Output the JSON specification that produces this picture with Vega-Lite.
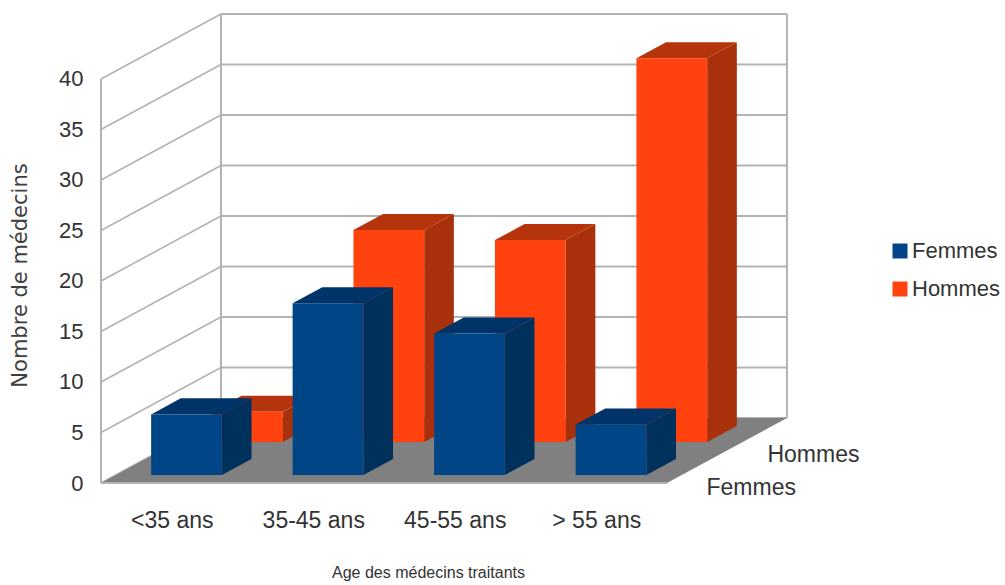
{
"$schema":"https://vega.github.io/schema/vega-lite/v6.json",
"width":904,"height":483,
"autosize":"none",
"padding":{"left":101,"top":0,"right":0,"bottom":102},
"background":"white",
"config":{"view":{"stroke":null}},
"datasets":{
"bars":[
{"age":"<35 ans","serie":"Femmes","value":6},
{"age":"35-45 ans","serie":"Femmes","value":17},
{"age":"45-55 ans","serie":"Femmes","value":14},
{"age":"> 55 ans","serie":"Femmes","value":5},
{"age":"<35 ans","serie":"Hommes","value":3},
{"age":"35-45 ans","serie":"Hommes","value":21},
{"age":"45-55 ans","serie":"Hommes","value":20},
{"age":"> 55 ans","serie":"Hommes","value":38}],
"levels":[{"level":0},{"level":5},{"level":10},{"level":15},{"level":20},{"level":25},{"level":30},{"level":35},{"level":40}],
"depths":[{"depth":0},{"depth":1}],
"corners":[{"cat":0,"depth":0},{"cat":0,"depth":1},{"cat":4,"depth":1}],
"rows":[{"serie":"Femmes"},{"serie":"Hommes"}]
},
"layer":[
{"data":{"name":"levels"},
 "transform":[{"calculate":"datum.level+6.436","as":"yb"},{"calculate":"0","as":"xf"},{"calculate":"0.848","as":"xb"}],
 "mark":{"type":"rule","color":"#b3b3b3","strokeWidth":1.6},
 "encoding":{
  "x":{"field":"xf","type":"quantitative","scale":{"domain":[0,6.389],"nice":false,"zero":false},
   "axis":{"values":[0.5,1.5,2.5,3.5],"labelExpr":"['<35 ans','35-45 ans','45-55 ans','> 55 ans'][floor(datum.value)]","domain":false,"ticks":false,"grid":false,"labelFont":"Liberation Sans","labelFontSize":23,"labelColor":"#333333","labelPadding":37,"labelBaseline":"middle","title":"Age des médecins traitants","titleFont":"Liberation Sans","titleFontSize":16,"titleFontWeight":"normal","titleColor":"#333333","titleX":327,"titleY":89,"titleBaseline":"middle","titleAnchor":"middle","labelOverlap":false}},
  "x2":{"field":"xb"},
  "y":{"field":"level","type":"quantitative","scale":{"domain":[0,47.82],"nice":false,"zero":false},
   "axis":{"values":[0,5,10,15,20,25,30,35,40],"domain":false,"ticks":false,"grid":false,"labelFont":"Liberation Sans","labelFontSize":22,"labelColor":"#333333","labelPadding":18,"labelOverlap":false,"title":"Nombre de médecins","titleFont":"DejaVu Sans","titleFontSize":21,"titleFontWeight":"normal","titleColor":"#404040","titleX":-81,"titleY":275,"titleBaseline":"middle","titleAngle":270,"titleAnchor":"middle"}},
  "y2":{"field":"yb"}}},
{"data":{"name":"levels"},
 "transform":[{"calculate":"datum.level+6.436","as":"yb"},{"calculate":"0.848","as":"xl"},{"calculate":"4.848","as":"xr"}],
 "mark":{"type":"rule","color":"#b3b3b3","strokeWidth":2},
 "encoding":{
  "x":{"field":"xl","type":"quantitative"},
  "x2":{"field":"xr"},
  "y":{"field":"yb","type":"quantitative"}}},
{"data":{"name":"corners"},
 "transform":[{"calculate":"datum.cat+datum.depth*0.848","as":"xc"},{"calculate":"datum.depth*6.436","as":"ylo"},{"calculate":"datum.depth*6.436+40","as":"yhi"}],
 "mark":{"type":"rule","color":"#b3b3b3","strokeWidth":2},
 "encoding":{
  "x":{"field":"xc","type":"quantitative"},
  "y":{"field":"ylo","type":"quantitative"},
  "y2":{"field":"yhi"}}},
{"data":{"name":"depths"},
 "transform":[{"calculate":"datum.depth*0.848","as":"xa"},{"calculate":"4+datum.depth*0.848","as":"xz"},{"calculate":"datum.depth*6.436","as":"yd"}],
 "mark":{"type":"area","color":"#808080","orient":"horizontal"},
 "encoding":{
  "y":{"field":"yd","type":"quantitative"},
  "x":{"field":"xa","type":"quantitative","stack":null},
  "x2":{"field":"xz"}}},
{"data":{"name":"depths"},
 "transform":[{"filter":"datum.depth==0"},{"calculate":"0","as":"xa"},{"calculate":"4","as":"xz"},{"calculate":"0","as":"yd"}],
 "mark":{"type":"rule","color":"#b3b3b3","strokeWidth":2},
 "encoding":{
  "x":{"field":"xa","type":"quantitative"},
  "x2":{"field":"xz"},
  "y":{"field":"yd","type":"quantitative"}}},
{"data":{"name":"bars"},
 "transform":[
  {"filter":"datum.serie=='Hommes'"},
  {"calculate":"indexof(['<35 ans','35-45 ans','45-55 ans','> 55 ans'],datum.age)+0.25+0.848*0.63","as":"x0"},
  {"calculate":"datum.x0+0.5","as":"x1"},
  {"calculate":"6.436*0.63","as":"y0"},
  {"calculate":"datum.y0+datum.value","as":"y1"},
  {"calculate":"[0,1]","as":"t"},{"flatten":["t"]},
  {"calculate":"datum.x1+datum.t*0.2095","as":"sx"},
  {"calculate":"datum.y0+datum.t*1.59","as":"sy0"},
  {"calculate":"datum.y1+datum.t*1.59","as":"sy1"},
  {"calculate":"datum.serie+' côté'","as":"key"}],
 "mark":{"type":"area"},
 "encoding":{
  "x":{"field":"sx","type":"quantitative"},
  "y":{"field":"sy0","type":"quantitative","stack":null},
  "y2":{"field":"sy1"},
  "detail":{"field":"age"},
  "color":{"field":"key","type":"nominal","scale":{"domain":["Femmes","Hommes","Femmes côté","Hommes côté","Femmes dessus","Hommes dessus"],"range":["#004586","#ff420e","#00305c","#a8300a","#003468","#b5340b"]},
   "legend":{"values":["Femmes","Hommes"],"title":null,"orient":"none","legendX":788,"legendY":240,"symbolType":"square","symbolSize":225,"symbolStrokeWidth":0,"labelFont":"Liberation Sans","labelFontSize":22,"labelColor":"#333333","labelOffset":1,"rowPadding":16,"padding":0}}}},
{"data":{"name":"bars"},
 "transform":[
  {"filter":"datum.serie=='Hommes'"},
  {"calculate":"indexof(['<35 ans','35-45 ans','45-55 ans','> 55 ans'],datum.age)+0.25+0.848*0.63","as":"x0"},
  {"calculate":"datum.x0+0.5","as":"x1"},
  {"calculate":"6.436*0.63","as":"y0"},
  {"calculate":"datum.y0+datum.value","as":"y1"},
  {"calculate":"[0,1]","as":"t"},{"flatten":["t"]},
  {"calculate":"datum.x0+datum.t*0.2095","as":"tx0"},
  {"calculate":"datum.x1+datum.t*0.2095","as":"tx1"},
  {"calculate":"datum.y1+datum.t*1.59","as":"ty"},
  {"calculate":"datum.serie+' dessus'","as":"key"}],
 "mark":{"type":"area","orient":"horizontal"},
 "encoding":{
  "y":{"field":"ty","type":"quantitative"},
  "x":{"field":"tx0","type":"quantitative","stack":null},
  "x2":{"field":"tx1"},
  "detail":{"field":"age"},
  "color":{"field":"key","type":"nominal"}}},
{"data":{"name":"bars"},
 "transform":[
  {"filter":"datum.serie=='Hommes'"},
  {"calculate":"indexof(['<35 ans','35-45 ans','45-55 ans','> 55 ans'],datum.age)+0.25+0.848*0.63","as":"x0"},
  {"calculate":"datum.x0+0.5","as":"x1"},
  {"calculate":"6.436*0.63","as":"y0"},
  {"calculate":"datum.y0+datum.value","as":"y1"}],
 "mark":{"type":"rect"},
 "encoding":{
  "x":{"field":"x0","type":"quantitative"},
  "x2":{"field":"x1"},
  "y":{"field":"y0","type":"quantitative"},
  "y2":{"field":"y1"},
  "color":{"field":"serie","type":"nominal"}}},
{"data":{"name":"bars"},
 "transform":[
  {"filter":"datum.serie=='Femmes'"},
  {"calculate":"indexof(['<35 ans','35-45 ans','45-55 ans','> 55 ans'],datum.age)+0.25+0.848*0.123","as":"x0"},
  {"calculate":"datum.x0+0.5","as":"x1"},
  {"calculate":"6.436*0.123","as":"y0"},
  {"calculate":"datum.y0+datum.value","as":"y1"},
  {"calculate":"[0,1]","as":"t"},{"flatten":["t"]},
  {"calculate":"datum.x1+datum.t*0.2095","as":"sx"},
  {"calculate":"datum.y0+datum.t*1.59","as":"sy0"},
  {"calculate":"datum.y1+datum.t*1.59","as":"sy1"},
  {"calculate":"datum.serie+' côté'","as":"key"}],
 "mark":{"type":"area"},
 "encoding":{
  "x":{"field":"sx","type":"quantitative"},
  "y":{"field":"sy0","type":"quantitative","stack":null},
  "y2":{"field":"sy1"},
  "detail":{"field":"age"},
  "color":{"field":"key","type":"nominal"}}},
{"data":{"name":"bars"},
 "transform":[
  {"filter":"datum.serie=='Femmes'"},
  {"calculate":"indexof(['<35 ans','35-45 ans','45-55 ans','> 55 ans'],datum.age)+0.25+0.848*0.123","as":"x0"},
  {"calculate":"datum.x0+0.5","as":"x1"},
  {"calculate":"6.436*0.123","as":"y0"},
  {"calculate":"datum.y0+datum.value","as":"y1"},
  {"calculate":"[0,1]","as":"t"},{"flatten":["t"]},
  {"calculate":"datum.x0+datum.t*0.2095","as":"tx0"},
  {"calculate":"datum.x1+datum.t*0.2095","as":"tx1"},
  {"calculate":"datum.y1+datum.t*1.59","as":"ty"},
  {"calculate":"datum.serie+' dessus'","as":"key"}],
 "mark":{"type":"area","orient":"horizontal"},
 "encoding":{
  "y":{"field":"ty","type":"quantitative"},
  "x":{"field":"tx0","type":"quantitative","stack":null},
  "x2":{"field":"tx1"},
  "detail":{"field":"age"},
  "color":{"field":"key","type":"nominal"}}},
{"data":{"name":"bars"},
 "transform":[
  {"filter":"datum.serie=='Femmes'"},
  {"calculate":"indexof(['<35 ans','35-45 ans','45-55 ans','> 55 ans'],datum.age)+0.25+0.848*0.123","as":"x0"},
  {"calculate":"datum.x0+0.5","as":"x1"},
  {"calculate":"6.436*0.123","as":"y0"},
  {"calculate":"datum.y0+datum.value","as":"y1"}],
 "mark":{"type":"rect"},
 "encoding":{
  "x":{"field":"x0","type":"quantitative"},
  "x2":{"field":"x1"},
  "y":{"field":"y0","type":"quantitative"},
  "y2":{"field":"y1"},
  "color":{"field":"serie","type":"nominal"}}},
{"data":{"name":"rows"},
 "transform":[
  {"calculate":"datum.serie=='Femmes'?0.246:0.754","as":"d"},
  {"calculate":"4+0.848*datum.d","as":"lx"},
  {"calculate":"6.436*datum.d","as":"ly"}],
 "mark":{"type":"text","align":"left","baseline":"middle","dx":10,"dy":21,"fontSize":23,"color":"#333333","font":"Liberation Sans"},
 "encoding":{
  "x":{"field":"lx","type":"quantitative"},
  "y":{"field":"ly","type":"quantitative"},
  "text":{"field":"serie"}}}
]}
